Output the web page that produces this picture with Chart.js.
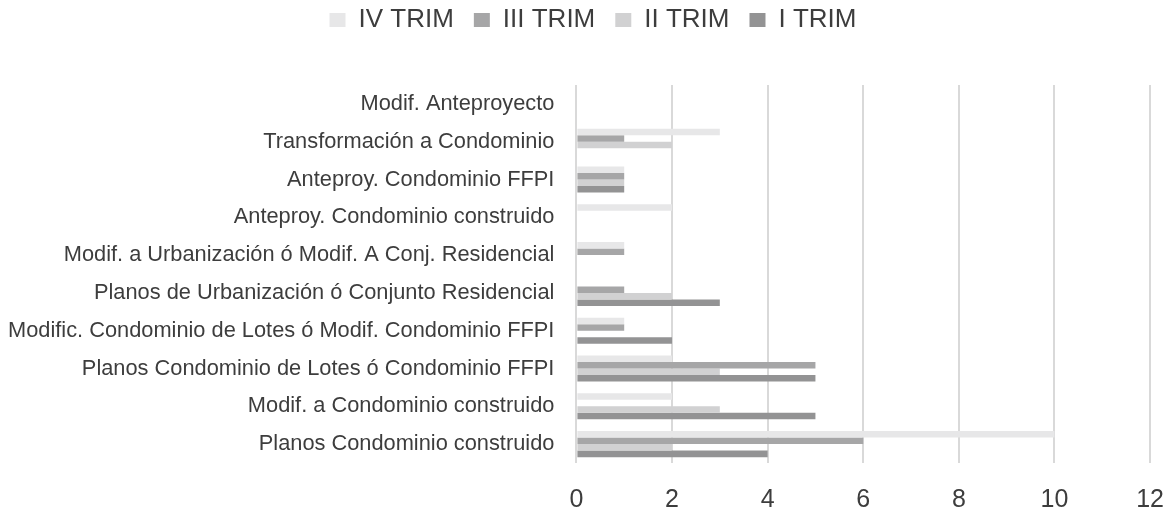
<!DOCTYPE html>
<html>
<head>
<meta charset="utf-8">
<script src="https://cdn.jsdelivr.net/npm/chart.js@4/dist/chart.umd.min.js"></script>
<style>
  html, body { margin: 0; padding: 0; background: #ffffff; }
</style>
</head>
<body>
<canvas id="barchart" width="1168" height="516"></canvas>
<script>
// tramites por trimestre
var categories = [
    "Modif. Anteproyecto",
    "Transformación a Condominio",
    "Anteproy. Condominio FFPI",
    "Anteproy. Condominio construido",
    "Modif. a Urbanización ó Modif. A Conj. Residencial",
    "Planos de Urbanización ó Conjunto Residencial",
    "Modific. Condominio de Lotes ó Modif. Condominio FFPI",
    "Planos Condominio de Lotes ó Condominio FFPI",
    "Modif. a Condominio construido",
    "Planos Condominio construido"
];
var seriesNames = ["IV TRIM", "III TRIM", "II TRIM", "I TRIM"];
var trim4 = [0, 3, 1, 2, 1, 0, 1, 2, 2, 10];
var trim3 = [0, 1, 1, 0, 1, 1, 1, 5, 0, 6];
var trim2 = [0, 2, 1, 0, 0, 2, 0, 3, 3, 2];
var trim1 = [0, 0, 1, 0, 0, 3, 2, 5, 5, 4];
var xTicks = [0, 2, 4, 6, 8, 10, 12];

var colors = ["#e7e7e8", "#a6a6a7", "#d1d1d2", "#939394"];
var values = [trim4, trim3, trim2, trim1];

var textColor = "#3d3d3d";
var fontFamily = "'Liberation Sans', Arial, sans-serif";

// extra room under the legend, and nudge it a bit right
const legendGap = {
    id: "legendGap",
    beforeInit: function(chart) {
        const fit = chart.legend.fit;
        chart.legend.fit = function() {
            fit.bind(chart.legend)();
            this.height += 42;
        };
    },
    afterLayout: function(chart) {
        chart.legend.left += 12;
        chart.legend.right += 12;
    }
};

const ctx = document.getElementById("barchart").getContext("2d");

const config = {
    type: "bar",
    data: {
        labels: categories,
        datasets: seriesNames.map(function(name, i) {
            return {
                label: name,
                data: values[i],
                backgroundColor: colors[i],
                borderWidth: 0,
                categoryPercentage: 0.69,
                barPercentage: 1.0
            };
        })
    },
    options: {
        indexAxis: "y",
        responsive: false,
        animation: false,
        layout: {
            padding: { left: -6, right: 0, top: -13, bottom: -3 }
        },
        scales: {
            x: {
                min: 0,
                max: 12,
                afterBuildTicks: function(axis) {
                    axis.ticks = xTicks.map(function(v) { return { value: v }; });
                },
                grid: {
                    color: "#d9d9d9",
                    lineWidth: 2,
                    drawTicks: true,
                    tickLength: 18,
                    tickColor: "rgba(0,0,0,0)"
                },
                border: { display: false },
                ticks: {
                    color: textColor,
                    padding: 4,
                    font: { family: fontFamily, size: 25 }
                }
            },
            y: {
                grid: { display: false },
                border: { display: false },
                ticks: {
                    color: textColor,
                    padding: 14,
                    autoSkip: false,
                    font: { family: fontFamily, size: 21.8 }
                }
            }
        },
        plugins: {
            legend: {
                position: "top",
                labels: {
                    boxWidth: 16,
                    boxHeight: 14,
                    padding: 20,
                    color: textColor,
                    font: { family: fontFamily, size: 26 }
                }
            },
            tooltip: { enabled: false }
        }
    },
    plugins: [legendGap]
};

var barChart = new Chart(ctx, config);
</script>
</body>
</html>
